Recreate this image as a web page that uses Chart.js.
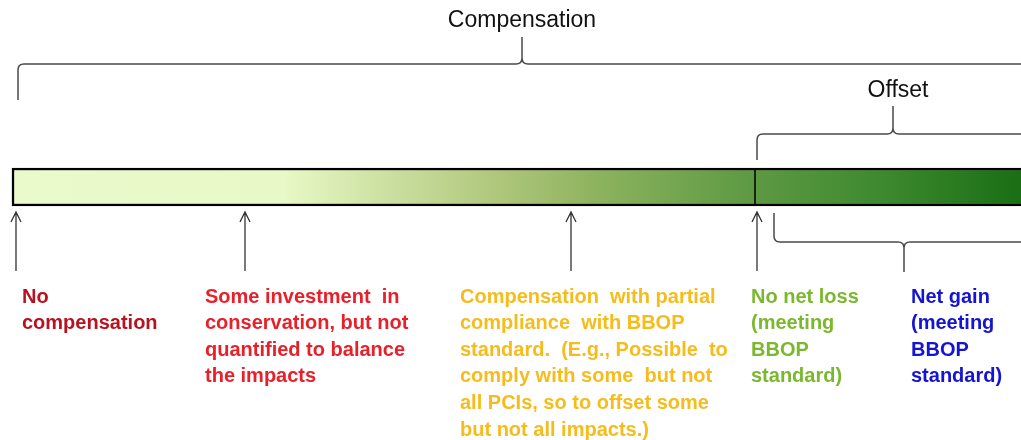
<!DOCTYPE html>
<html>
<head>
<meta charset="utf-8">
<script src="https://cdn.jsdelivr.net/npm/chart.js@4/dist/chart.umd.min.js"></script>
<style>
  html, body { margin: 0; padding: 0; background: #ffffff; }
  canvas { display: block; }
</style>
</head>
<body>
<canvas id="c" width="1021" height="440"></canvas>
<script>
// ---- Data (positions along the spectrum, 0..1021 units) ----
const spectrumStart = 12;
const spectrumEnd = 1040;
const offsetStart = 755;              // divider where offsets begin (no net loss)
const arrowPositions = [16, 245, 571, 757];

const braceLabels = ["Compensation", "Offset"];
const braceLeft  = [18, 757, 774];
const braceTip   = [522, 893, 904];
const braceRight = [1026, 1029, 1034];

const stageX = [22, 205, 460, 751, 911];
const stageLines = [
  ["No", "compensation"],
  ["Some investment  in", "conservation, but not", "quantified to balance", "the impacts"],
  ["Compensation  with partial", "compliance  with BBOP", "standard.  (E.g., Possible  to", "comply with some  but not", "all PCIs, so to offset some", "but not all impacts.)"],
  ["No net loss", "(meeting", "BBOP", "standard)"],
  ["Net gain", "(meeting", "BBOP", "standard)"]
];
const stageColors = ["#B8121E", "#E8202A", "#F5BC1C", "#7CB82F", "#1414D2"];

const gradientStops = [0, 0.27, 0.36, 0.48, 0.58, 0.72, 0.86, 1];
const gradientColors = ["#EAFACB", "#E8F8C6", "#CFE3A5", "#AFC77C", "#8DB35E", "#619B45", "#3E8A30", "#1A6E14"];

const FONT = '"Liberation Sans", Arial, sans-serif';

function drawBrace(ctx, x0, tipX, x1, level, endY, tipY, r) {
  const de = Math.sign(endY - level);
  const dt = Math.sign(tipY - level);
  ctx.beginPath();
  ctx.moveTo(x0, endY);
  ctx.lineTo(x0, level + de * r);
  ctx.quadraticCurveTo(x0, level, x0 + r, level);
  ctx.lineTo(tipX - r, level);
  ctx.quadraticCurveTo(tipX, level, tipX, level + dt * r);
  ctx.lineTo(tipX, tipY);
  ctx.moveTo(tipX, level + dt * r);
  ctx.quadraticCurveTo(tipX, level, tipX + r, level);
  ctx.lineTo(x1 - r, level);
  ctx.quadraticCurveTo(x1, level, x1, level + de * r);
  ctx.lineTo(x1, endY);
  ctx.stroke();
}

const diagramPlugin = {
  id: 'diagram',
  afterDatasetsDraw(chart) {
    const ctx = chart.ctx;
    const xs = chart.scales.x, ys = chart.scales.y;
    const X = v => xs.getPixelForValue(v);
    const Y = v => ys.getPixelForValue(v);
    ctx.save();

    // divider inside the bar
    ctx.strokeStyle = '#000';
    ctx.lineWidth = 1.5;
    ctx.beginPath();
    ctx.moveTo(X(offsetStart), Y(169));
    ctx.lineTo(X(offsetStart), Y(205));
    ctx.stroke();

    // braces
    ctx.strokeStyle = '#4a4a4a';
    ctx.lineWidth = 1.5;
    drawBrace(ctx, X(braceLeft[0]), X(braceTip[0]), X(braceRight[0]), Y(64), Y(100), Y(37), 6);
    drawBrace(ctx, X(braceLeft[1]), X(braceTip[1]), X(braceRight[1]), Y(134), Y(160), Y(106), 6);
    drawBrace(ctx, X(braceLeft[2]), X(braceTip[2]), X(braceRight[2]), Y(242), Y(213), Y(272), 6);

    // brace labels
    ctx.fillStyle = '#111';
    ctx.font = '23px ' + FONT;
    ctx.textAlign = 'center';
    ctx.textBaseline = 'middle';
    ctx.fillText(braceLabels[0], X(braceTip[0]), Y(21));
    ctx.fillText(braceLabels[1], X(braceTip[1]) + 5, Y(91));

    // arrows
    ctx.strokeStyle = '#333';
    ctx.lineWidth = 1.3;
    arrowPositions.forEach(p => {
      const x = X(p);
      ctx.beginPath();
      ctx.moveTo(x, Y(212));
      ctx.lineTo(x, Y(271));
      ctx.moveTo(x - 5, Y(222));
      ctx.lineTo(x, Y(212));
      ctx.lineTo(x + 5, Y(222));
      ctx.stroke();
    });

    // stage texts
    ctx.font = 'bold 20px ' + FONT;
    ctx.textAlign = 'left';
    ctx.textBaseline = 'middle';
    stageLines.forEach((lines, i) => {
      ctx.fillStyle = stageColors[i];
      lines.forEach((t, j) => {
        ctx.fillText(t, X(stageX[i]), Y(297 + j * 26.6));
      });
    });
    ctx.restore();
  }
};

new Chart(document.getElementById('c'), {
  type: 'bar',
  data: {
    datasets: [{
      data: [{ x: [spectrumStart, spectrumEnd], y: 187 }],
      barThickness: 38,
      borderWidth: 2.5,
      borderColor: '#000',
      borderSkipped: false,
      backgroundColor: (c) => {
        const chart = c.chart;
        if (!chart.chartArea) return '#9c9';
        const xs = chart.scales.x;
        const g = chart.ctx.createLinearGradient(xs.getPixelForValue(spectrumStart), 0, xs.getPixelForValue(1021), 0);
        gradientStops.forEach((s, i) => g.addColorStop(s, gradientColors[i]));
        return g;
      }
    }]
  },
  options: {
    indexAxis: 'y',
    responsive: false,
    animation: false,
    layout: { padding: 0 },
    scales: {
      x: { type: 'linear', min: 0, max: 1021, display: false, offset: false },
      y: { type: 'linear', min: 0, max: 440, reverse: true, display: false, offset: false }
    },
    plugins: { legend: { display: false }, tooltip: { enabled: false } }
  },
  plugins: [diagramPlugin]
});
</script>
</body>
</html>
